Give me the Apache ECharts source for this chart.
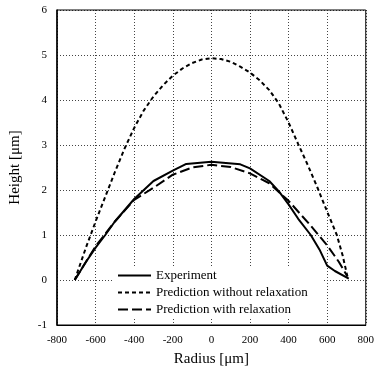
<!DOCTYPE html>
<html><head><meta charset="utf-8">
<script src="https://cdn.jsdelivr.net/npm/echarts@6/dist/echarts.min.js"></script>
<style>html,body{margin:0;padding:0;background:#fff}#c{width:377px;height:372px}</style>
</head><body><div id="c"></div>
<script>
var seriesNames = ['Experiment', 'Prediction without relaxation', 'Prediction with relaxation'];
var expR = [-708,-650,-600,-550,-500,-450,-400,-350,-300,-200,-130,0,150,200,300,350,400,450,515,560,600,640,712];
var expH = [0,0.4,0.72,1.0,1.3,1.55,1.8,2.0,2.2,2.43,2.58,2.63,2.57,2.48,2.2,1.97,1.68,1.36,1.0,0.68,0.32,0.2,0.03];
var noRelR = [-708,-700,-650,-600,-550,-500,-450,-400,-350,-300,-250,-200,-150,-100,-50,0,50,100,150,200,250,300,350,400,450,500,550,600,650,680,705];
var noRelH = [0,0.1,0.72,1.3,1.85,2.4,2.92,3.38,3.77,4.08,4.33,4.54,4.7,4.82,4.9,4.93,4.91,4.85,4.74,4.61,4.44,4.22,3.92,3.5,3.02,2.55,2.05,1.52,1.0,0.55,0.08];
var relR = [-708,-600,-500,-400,-300,-200,-100,0,100,200,300,400,508,602,661,705];
var relH = [0,0.75,1.3,1.78,2.05,2.34,2.5,2.56,2.51,2.37,2.15,1.76,1.24,0.76,0.4,0.08];
var xTicks = {min:-800, max:800, interval:200};
var yTicks = {min:-1, max:6, interval:1};

function zip(a,b){return a.map(function(v,i){return [v,b[i]];});}
var font = 'Liberation Serif';
var chart = echarts.init(document.getElementById('c'));
chart.setOption({
  animation:false,
  backgroundColor:'#fff',
  grid:{left:54,right:9,top:10,bottom:44,show:true,borderColor:'#000',borderWidth:1,backgroundColor:'transparent',z:6},
  legend:{
    orient:'vertical', left:113, top:266, itemWidth:33, itemHeight:10, itemGap:4,
    backgroundColor:'#fff', padding:[3,16,2,4],
    itemStyle:{opacity:0},
    textStyle:{fontFamily:font,fontSize:13,color:'#000'},
    data:seriesNames
  },
  xAxis:{type:'value',min:xTicks.min,max:xTicks.max,interval:xTicks.interval,
    name:'Radius [μm]',nameLocation:'middle',nameGap:27,
    nameTextStyle:{fontFamily:font,fontSize:15,color:'#000'},
    axisLine:{onZero:false,lineStyle:{color:'#000',width:1}},axisTick:{show:false},
    axisLabel:{fontFamily:font,fontSize:11,color:'#000',margin:10},
    splitLine:{show:true,lineStyle:{color:'#444',type:[1,2],width:1}}},
  yAxis:{type:'value',min:yTicks.min,max:yTicks.max,interval:yTicks.interval,
    name:'Height [μm]',nameLocation:'middle',nameGap:34,
    nameTextStyle:{fontFamily:font,fontSize:15,color:'#000'},
    axisLine:{show:true,onZero:false,lineStyle:{color:'#000',width:1.5}},axisTick:{show:false},
    axisLabel:{fontFamily:font,fontSize:11,color:'#000',margin:10},
    splitLine:{show:true,lineStyle:{color:'#444',type:[1,2],width:1}}},
  series:[
    {name:seriesNames[0],type:'line',data:zip(expR,expH),showSymbol:false,symbol:'none',
      lineStyle:{color:'#000',width:2,type:'solid'},itemStyle:{color:'#000'},z:3},
    {name:seriesNames[1],type:'line',data:zip(noRelR,noRelH),showSymbol:false,symbol:'none',
      lineStyle:{color:'#000',width:2,type:[4,3]},itemStyle:{color:'#000'},z:2},
    {name:seriesNames[2],type:'line',data:zip(relR,relH),showSymbol:false,symbol:'none',
      lineStyle:{color:'#000',width:2,type:[10,4]},itemStyle:{color:'#000'},z:2}
  ]
});
</script></body></html>
